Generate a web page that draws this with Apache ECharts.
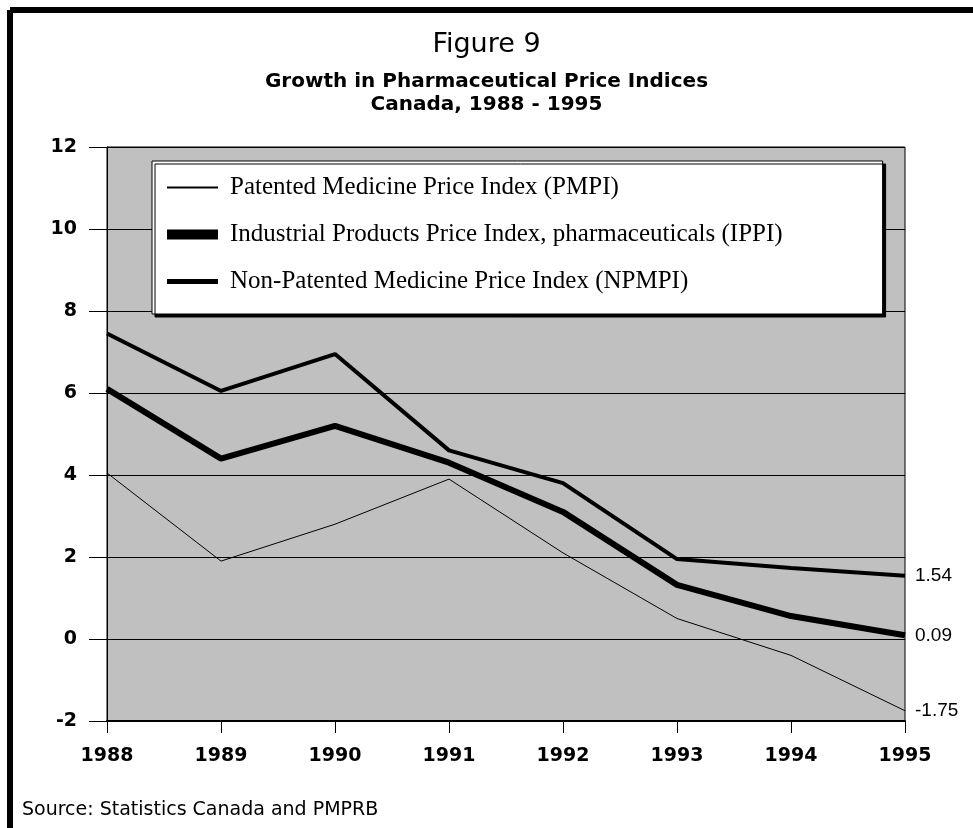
<!DOCTYPE html>
<html>
<head>
<meta charset="utf-8">
<script src="https://cdn.jsdelivr.net/npm/echarts@6/dist/echarts.min.js"></script>
<style>
  html, body { margin: 0; padding: 0; background: #fff; }
  #chart { width: 973px; height: 828px; }
</style>
</head>
<body>
<div id="chart"></div>
<script>
// data
var years = ['1988', '1989', '1990', '1991', '1992', '1993', '1994', '1995'];
var pmpi = [4.05, 1.9, 2.8, 3.9, 2.1, 0.5, -0.4, -1.75];
var ippi = [6.1, 4.4, 5.2, 4.3, 3.1, 1.32, 0.56, 0.09];
var npmpi = [7.45, 6.05, 6.95, 4.6, 3.8, 1.95, 1.73, 1.54];

var names = [
  'Patented Medicine Price Index (PMPI)',
  'Industrial Products Price Index, pharmaceuticals (IPPI)',
  'Non-Patented Medicine Price Index (NPMPI)'
];

var chart = echarts.init(document.getElementById('chart'));

function endLbl() {
  return {
    show: true,
    formatter: function (p) { return p.value; },
    fontFamily: 'Liberation Sans',
    fontSize: 19,
    color: '#000',
    distance: 10
  };
}

chart.setOption({
  animation: false,
  backgroundColor: '#fff',
  title: [
    { text: 'Figure 9', left: 'center', top: 26,
      textStyle: { fontFamily: 'DejaVu Sans', fontWeight: 'normal', fontSize: 27, color: '#000' } },
    { text: 'Growth in Pharmaceutical Price Indices', left: 'center', top: 67,
      textStyle: { fontFamily: 'DejaVu Sans', fontWeight: 'bold', fontSize: 20, color: '#000' } },
    { text: 'Canada, 1988 - 1995', left: 'center', top: 90,
      textStyle: { fontFamily: 'DejaVu Sans', fontWeight: 'bold', fontSize: 20, color: '#000' } }
  ],
  grid: {
    left: 107, right: 68, top: 147, bottom: 107,
    show: true, backgroundColor: '#c0c0c0', borderColor: '#000', borderWidth: 1
  },
  legend: {
    left: 152, top: 161,
    orient: 'vertical',
    backgroundColor: '#fff',
    borderColor: '#000',
    borderWidth: 1,
    shadowColor: '#000',
    shadowBlur: 0,
    shadowOffsetX: 3,
    shadowOffsetY: 3,
    padding: [14, 100, 20, 15],
    itemGap: 22,
    itemWidth: 51,
    itemHeight: 10,
    symbolKeepAspect: true,
    selectedMode: false,
    textStyle: { fontFamily: 'Liberation Serif', fontSize: 25, color: '#000', padding: [0, 0, 0, 7] },
    data: [
      { name: names[0], icon: 'path://M0,0L51,0L51,2L0,2Z', itemStyle: { color: '#000' } },
      { name: names[1], icon: 'path://M0,0L51,0L51,10L0,10Z', itemStyle: { color: '#000' } },
      { name: names[2], icon: 'path://M0,0L51,0L51,5L0,5Z', itemStyle: { color: '#000' } }
    ]
  },
  xAxis: {
    type: 'category',
    data: years,
    boundaryGap: false,
    axisLine: { onZero: false, lineStyle: { color: '#000', width: 2 } },
    axisTick: { show: true, length: 12, alignWithLabel: true, lineStyle: { color: '#000' } },
    axisLabel: { margin: 26, fontFamily: 'DejaVu Sans', fontWeight: 'bold', fontSize: 19, color: '#000' },
    splitLine: { show: false }
  },
  yAxis: {
    type: 'value',
    min: -2, max: 12, interval: 2,
    axisLine: { show: true, lineStyle: { color: '#000', width: 1 } },
    axisTick: { show: true, length: 18, lineStyle: { color: '#000' } },
    axisLabel: { margin: 30, fontFamily: 'DejaVu Sans', fontWeight: 'bold', fontSize: 19, color: '#000' },
    splitLine: { show: true, lineStyle: { color: '#000', width: 1 } }
  },
  series: [
    { name: names[0], type: 'line', data: pmpi, symbol: 'none',
      lineStyle: { color: '#000', width: 1 }, itemStyle: { color: '#000' }, endLabel: endLbl() },
    { name: names[1], type: 'line', data: ippi, symbol: 'none',
      lineStyle: { color: '#000', width: 6 }, itemStyle: { color: '#000' }, endLabel: endLbl() },
    { name: names[2], type: 'line', data: npmpi, symbol: 'none',
      lineStyle: { color: '#000', width: 4 }, itemStyle: { color: '#000' }, endLabel: endLbl() }
  ],
  graphic: [
    { type: 'line', shape: { x1: 10, y1: 10, x2: 973, y2: 10 }, style: { stroke: '#000', lineWidth: 6 } },
    { type: 'line', shape: { x1: 10, y1: 10, x2: 10, y2: 828 }, style: { stroke: '#000', lineWidth: 6 } },
    { type: 'text', x: 22, y: 810,
      style: { text: 'Source: Statistics Canada and PMPRB', fill: '#000',
               font: '19px "DejaVu Sans"', verticalAlign: 'middle' } }
  ]
});
</script>
</body>
</html>
